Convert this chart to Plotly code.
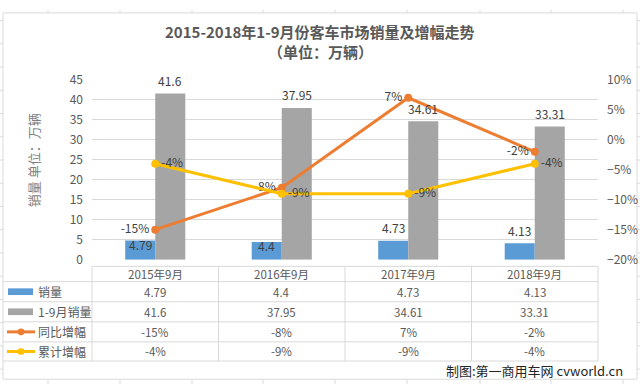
import plotly.graph_objects as go

# ---------------- data ----------------
categories = ["2015年9月", "2016年9月", "2017年9月", "2018年9月"]
sales_sep = [4.79, 4.4, 4.73, 4.13]            # 销量 (万辆)
sales_ytd = [41.6, 37.95, 34.61, 33.31]        # 1-9月销量 (万辆)
growth_yoy = [-15, -8, 7, -2]                  # 同比增幅 (%)
growth_cum = [-4, -9, -9, -4]                  # 累计增幅 (%)
series_names = ["销量", "1-9月销量", "同比增幅", "累计增幅"]
left_ticks = list(range(0, 50, 5))
right_ticks = [-20, -15, -10, -5, 0, 5, 10]

# ---------------- style ----------------
W, H = 640, 391
FONT = "Noto Sans CJK SC"
C_BLUE, C_GRAY, C_ORANGE, C_YELLOW = "#5B9BD5", "#A5A5A5", "#ED7D31", "#FFC000"
C_TEXT, C_LABEL, C_GRID = "#595959", "#404040", "#D9D9D9"
BARGAP = 0.525

def px(x):
    return x / W

def py(y):
    return 1 - y / H

def note(x, y, text, font, xref="paper", yref="paper", xanchor="center", **kw):
    d = dict(x=x, y=y, xref=xref, yref=yref, text=text, showarrow=False,
             xanchor=xanchor, yanchor="middle", font=font)
    d.update(kw)
    return d

plot_l, plot_r, plot_t, plot_b = 92, 598, 73, 261

fig = go.Figure()
fig.add_trace(go.Bar(x=categories, y=sales_sep, name=series_names[0],
                     marker=dict(color=C_BLUE, line=dict(width=0))))
fig.add_trace(go.Bar(x=categories, y=sales_ytd, name=series_names[1],
                     marker=dict(color=C_GRAY, line=dict(width=0))))
fig.add_trace(go.Scatter(x=categories, y=[v / 100 for v in growth_yoy], yaxis="y2",
                         mode="lines+markers+text", name=series_names[2],
                         text=[f"{v}%" for v in growth_yoy], textposition="middle left",
                         textfont=dict(family=FONT, size=12, color=C_LABEL),
                         line=dict(color=C_ORANGE, width=3),
                         marker=dict(color=C_ORANGE, size=8), cliponaxis=False))
fig.add_trace(go.Scatter(x=categories, y=[v / 100 for v in growth_cum], yaxis="y2",
                         mode="lines+markers+text", name=series_names[3],
                         text=[f"{v}%" for v in growth_cum], textposition="middle right",
                         textfont=dict(family=FONT, size=12, color=C_LABEL),
                         line=dict(color=C_YELLOW, width=3),
                         marker=dict(color=C_YELLOW, size=8), cliponaxis=False))

annotations = []
shapes = []

# bar value labels
LBL = dict(family=FONT, size=12, color=C_LABEL)
half = (1 - BARGAP) / 4
blue_dy = [-4, -3, 13, 13]
for i, v in enumerate(sales_sep):
    annotations.append(note(i - half, v, f"{v:g}", LBL, xref="x", yref="y", yshift=blue_dy[i]))
for i, v in enumerate(sales_ytd):
    annotations.append(note(i + half, v, f"{v:g}", LBL, xref="x", yref="y", yshift=13))

# title
TTL = dict(family=FONT, size=15, color=C_TEXT)
annotations.append(note(0.5, py(22), "<b>2015-2018年1-9月份客车市场销量及增幅走势</b>", TTL))
annotations.append(note(0.5, py(43), "<b>（单位：万辆）</b>", TTL))
# y axis title
annotations.append(note(px(33), py(157), "销量 单位：万辆",
                        dict(family=FONT, size=13, color="#7F7F7F"), textangle=-90))
# watermark
annotations.append(note(px(625), py(377), "制图:第一商用车网 cvworld.cn",
                        dict(family=FONT, size=13, color="#262626"), xanchor="right"))

# ---------------- data table ----------------
col_edges = [92, 218.5, 345, 471.5, 598]
row_edges = [268, 284, 305, 326, 347, 367]
LINE = dict(color=C_GRID, width=1)
shapes.append(dict(type="line", xref="paper", yref="paper", x0=px(92), x1=px(598),
                   y0=py(268), y1=py(268), line=LINE))
for ry in row_edges[1:]:
    shapes.append(dict(type="line", xref="paper", yref="paper", x0=px(3), x1=px(598),
                       y0=py(ry), y1=py(ry), line=LINE))
for cx in col_edges:
    shapes.append(dict(type="line", xref="paper", yref="paper", x0=px(cx), x1=px(cx),
                       y0=py(268), y1=py(367), line=LINE))

TF = dict(family=FONT, size=11.5, color=C_TEXT)
for j, cat in enumerate(categories):
    cxm = (col_edges[j] + col_edges[j + 1]) / 2
    annotations.append(note(px(cxm), py((row_edges[0] + row_edges[1]) / 2), cat, TF))
table_rows = [
    [f"{v:g}" for v in sales_sep],
    [f"{v:g}" for v in sales_ytd],
    [f"{v}%" for v in growth_yoy],
    [f"{v}%" for v in growth_cum],
]
for r, row in enumerate(table_rows):
    cy = (row_edges[r + 1] + row_edges[r + 2]) / 2
    for j, txt in enumerate(row):
        cxm = (col_edges[j] + col_edges[j + 1]) / 2
        annotations.append(note(px(cxm), py(cy), txt, TF))
    annotations.append(note(px(36), py(cy), series_names[r],
                            dict(family=FONT, size=12, color=C_TEXT), xanchor="left"))

# legend keys
for r, col in enumerate([C_BLUE, C_GRAY]):
    cy = (row_edges[r + 1] + row_edges[r + 2]) / 2
    shapes.append(dict(type="rect", xref="paper", yref="paper", x0=px(8), x1=px(33),
                       y0=py(cy - 3.5), y1=py(cy + 3.5), fillcolor=col, line=dict(width=0)))
for r, col in [(2, C_ORANGE), (3, C_YELLOW)]:
    cy = (row_edges[r + 1] + row_edges[r + 2]) / 2
    shapes.append(dict(type="line", xref="paper", yref="paper", x0=px(7), x1=px(35),
                       y0=py(cy), y1=py(cy), line=dict(color=col, width=3)))
    shapes.append(dict(type="circle", xref="paper", yref="paper", x0=px(17.5), x1=px(24.5),
                       y0=py(cy - 3.5), y1=py(cy + 3.5), fillcolor=col, line=dict(width=0)))

# chart border and surrounding spreadsheet grid
shapes.append(dict(type="rect", xref="paper", yref="paper", x0=px(3), x1=px(637),
                   y0=py(3), y1=py(386), line=LINE, layer="below"))
for gx in [48, 120, 192, 263, 335, 407, 480, 551, 623]:
    shapes.append(dict(type="line", xref="paper", yref="paper", x0=px(gx), x1=px(gx),
                       y0=py(0), y1=py(3), line=LINE))
    shapes.append(dict(type="line", xref="paper", yref="paper", x0=px(gx), x1=px(gx),
                       y0=py(386), y1=py(391), line=LINE))
gy = 11
while gy < 391:
    shapes.append(dict(type="line", xref="paper", yref="paper", x0=px(0), x1=px(3),
                       y0=py(gy), y1=py(gy), line=LINE))
    shapes.append(dict(type="line", xref="paper", yref="paper", x0=px(637), x1=px(640),
                       y0=py(gy), y1=py(gy), line=LINE))
    gy += 24.3

fig.update_layout(
    width=W, height=H, margin=dict(l=0, r=0, t=0, b=0),
    paper_bgcolor="white", plot_bgcolor="white",
    barmode="group", bargap=BARGAP, bargroupgap=0,
    showlegend=False,
    font=dict(family=FONT, color=C_TEXT),
    xaxis=dict(domain=[px(plot_l), px(plot_r)], showticklabels=False, ticks="",
               showgrid=False, zeroline=False, showline=False, range=[-0.5, 3.5]),
    yaxis=dict(domain=[py(plot_b), py(plot_t)], range=[0, 45], tickvals=left_ticks,
               showgrid=True, gridcolor=C_GRID, gridwidth=1, zeroline=False,
               showline=False, ticks="", ticklabelstandoff=8,
               tickfont=dict(family=FONT, size=12, color=C_TEXT)),
    yaxis2=dict(overlaying="y", side="right", range=[-0.20, 0.10],
                tickvals=[v / 100 for v in right_ticks], tickformat=".0%",
                showgrid=False, zeroline=False, showline=False, ticks="",
                ticklabelstandoff=8,
                tickfont=dict(family=FONT, size=12, color=C_TEXT)),
    annotations=annotations, shapes=shapes,
)

fig.write_html("out.html", config={"displayModeBar": False},
               post_script="document.body.style.margin='0';document.body.style.overflow='hidden';")
